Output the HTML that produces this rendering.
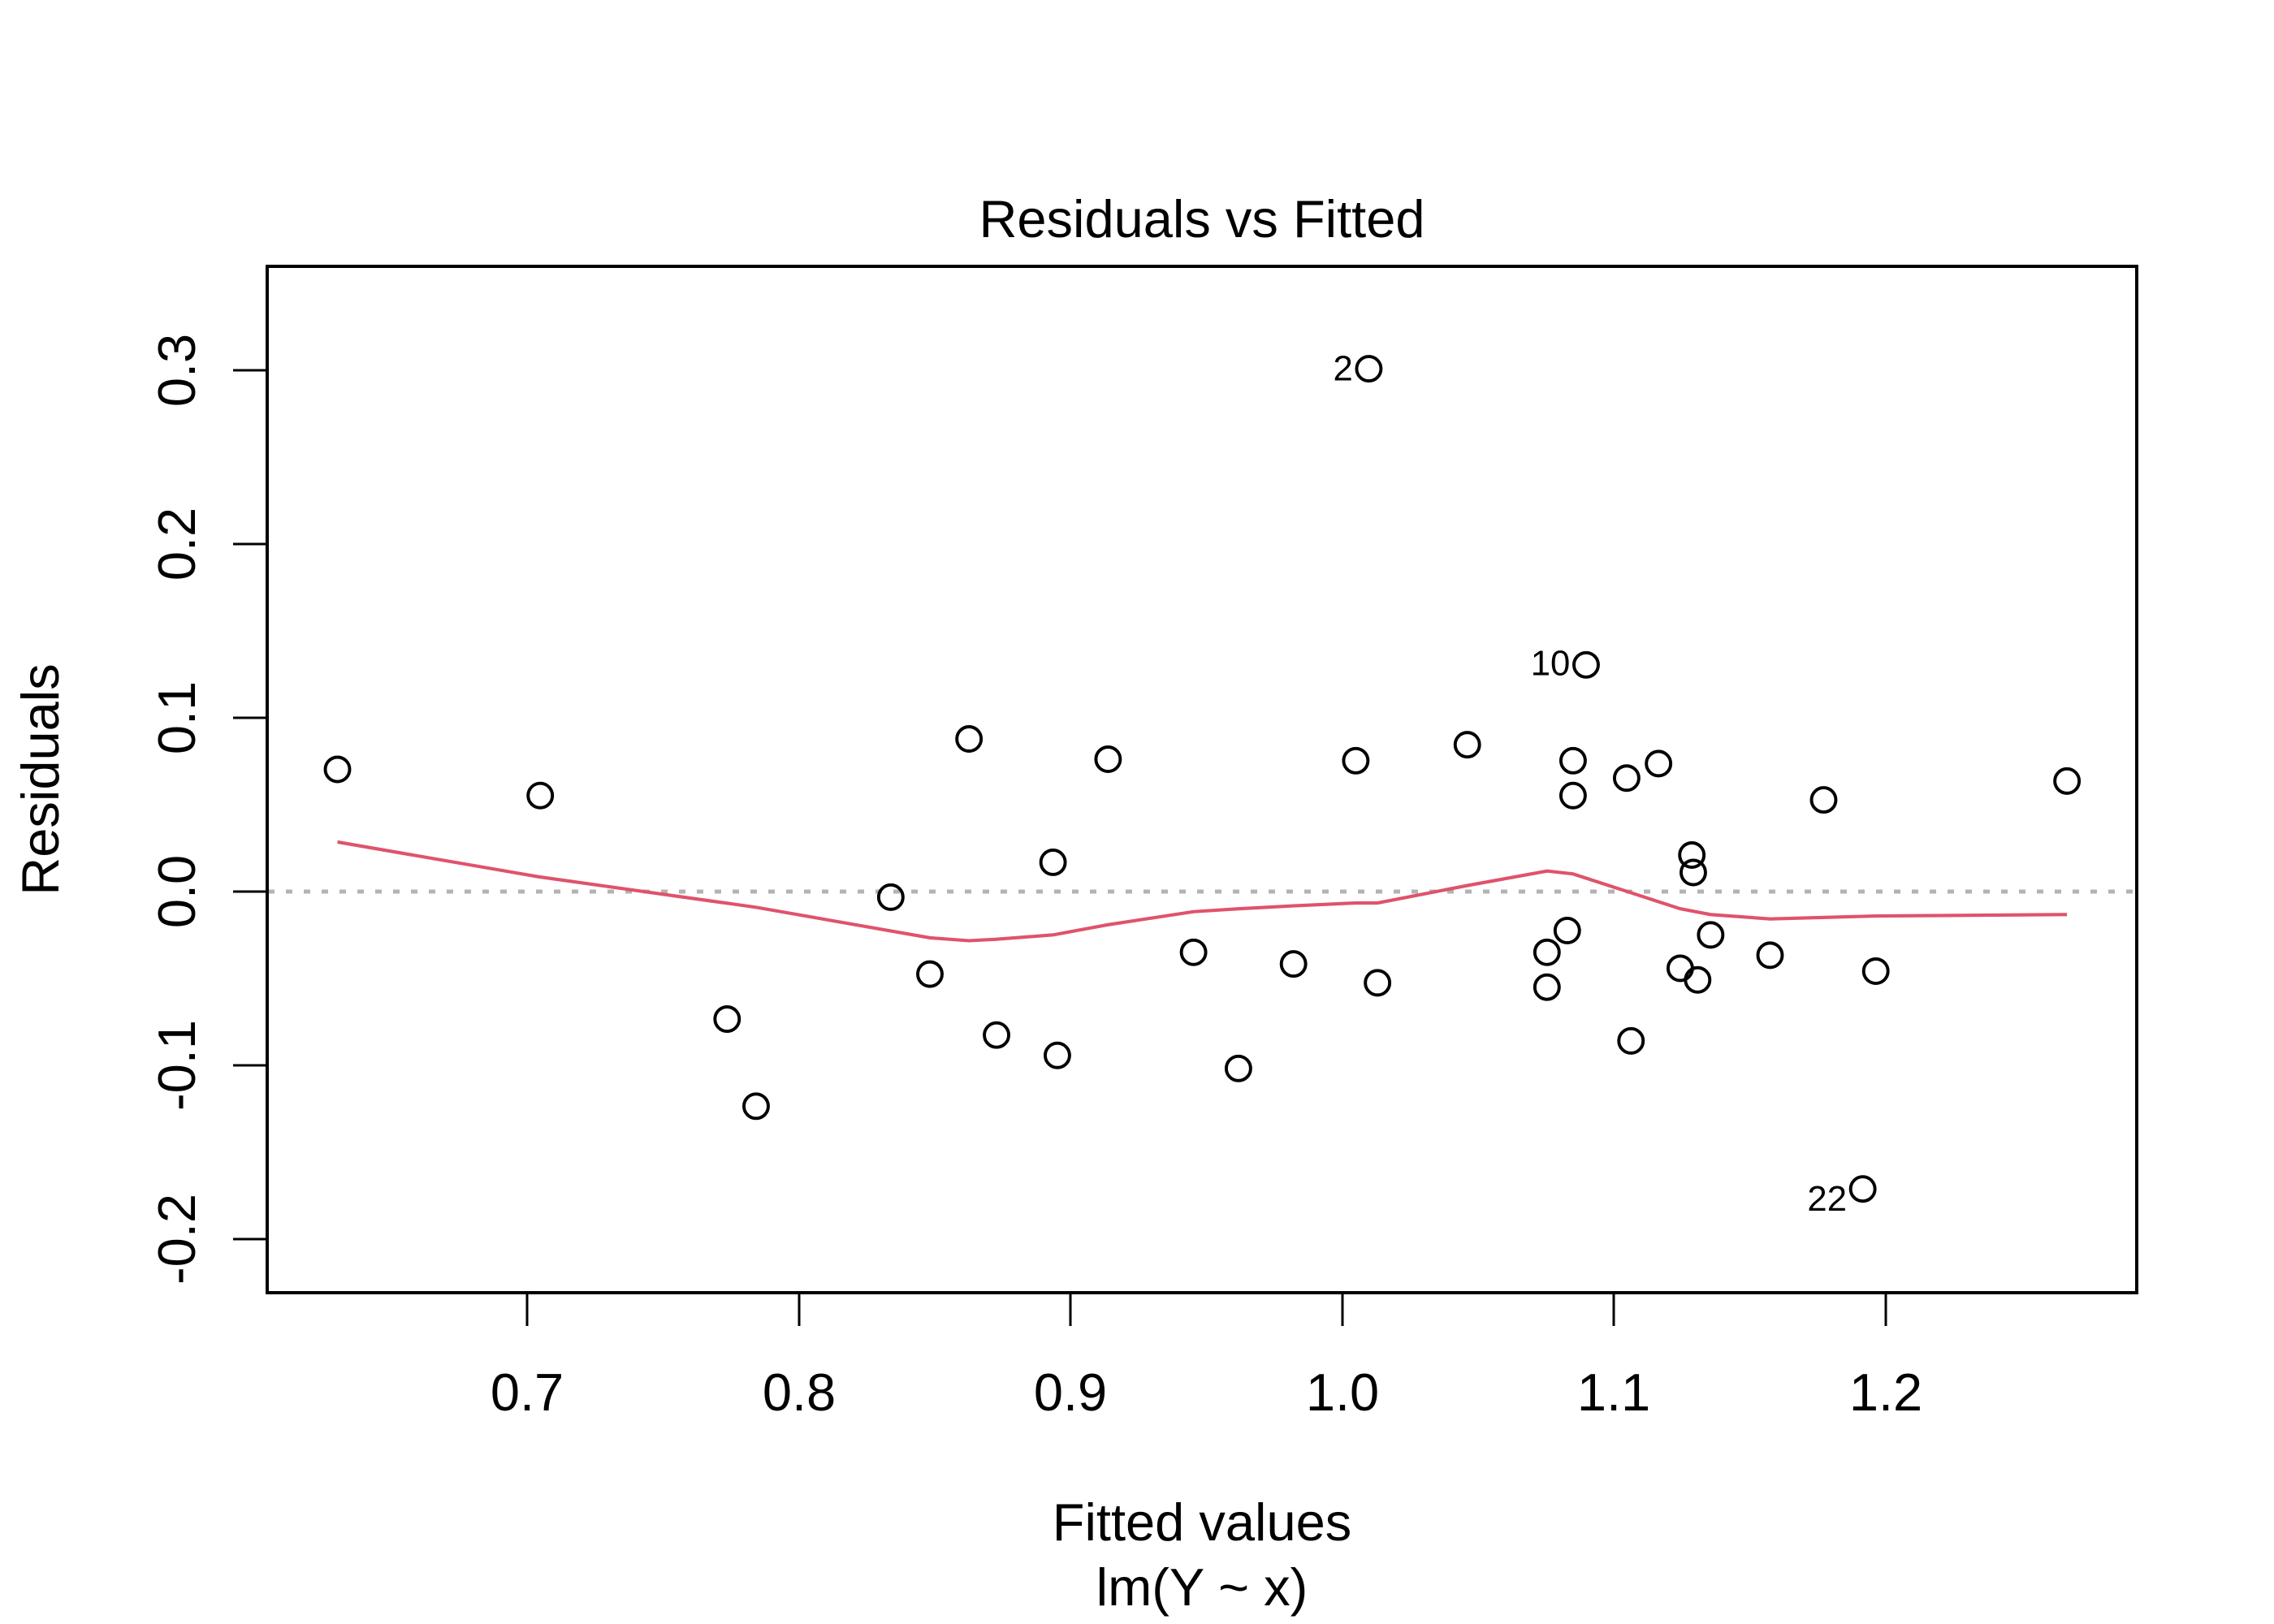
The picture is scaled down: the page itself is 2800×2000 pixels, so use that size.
<!DOCTYPE html>
<html><head><meta charset="utf-8"><style>
html,body{margin:0;padding:0;background:#fff;}
svg{display:block;}
text{font-family:"Liberation Sans",sans-serif;fill:#000;}
</style></head><body>
<svg width="2800" height="2000" viewBox="0 0 2800 2000" xmlns="http://www.w3.org/2000/svg">
<rect width="2800" height="2000" fill="#fff"/>
<text x="1480" y="292" font-size="65" text-anchor="middle">Residuals vs Fitted</text>
<line x1="330" y1="1098" x2="2632" y2="1098" stroke="#b3b3b3" stroke-width="5" stroke-dasharray="8,14"/>
<g transform="matrix(1.7836 0 0 1.7878 3.5 0)">
<polyline fill="none" stroke="#DF536B" stroke-width="2.3" points="231,580 370,604 520,625 640,646 667,648 686,647 725,644 763,637 822,628 853,626 891,624 934,622 949,622 1011,610 1066,600 1084,602 1121,614 1158,626 1179,630 1220,633 1293,631 1425,630"/>
<g fill="none" stroke="#000" stroke-width="2.2">
<circle cx="231" cy="530" r="8.4"/><circle cx="371" cy="548" r="8.4"/><circle cx="500" cy="702" r="8.4"/><circle cx="520" cy="762" r="8.4"/><circle cx="613" cy="618" r="8.4"/><circle cx="640" cy="671" r="8.4"/><circle cx="667" cy="509" r="8.4"/><circle cx="686" cy="713" r="8.4"/><circle cx="725" cy="594" r="8.4"/><circle cx="728" cy="727" r="8.4"/><circle cx="763" cy="523" r="8.4"/><circle cx="822" cy="656" r="8.4"/><circle cx="853" cy="736" r="8.4"/><circle cx="891" cy="664" r="8.4"/><circle cx="934" cy="524" r="8.4"/><circle cx="943" cy="254" r="8.4"/><circle cx="949" cy="677" r="8.4"/><circle cx="1011" cy="513" r="8.4"/><circle cx="1066" cy="656" r="8.4"/><circle cx="1066" cy="680" r="8.4"/><circle cx="1080" cy="641" r="8.4"/><circle cx="1084" cy="524" r="8.4"/><circle cx="1084" cy="548" r="8.4"/><circle cx="1093" cy="458" r="8.4"/><circle cx="1121" cy="536" r="8.4"/><circle cx="1124" cy="717" r="8.4"/><circle cx="1143" cy="526" r="8.4"/><circle cx="1158" cy="667" r="8.4"/><circle cx="1166" cy="589" r="8.4"/><circle cx="1167" cy="601" r="8.4"/><circle cx="1170" cy="675" r="8.4"/><circle cx="1179" cy="644" r="8.4"/><circle cx="1220" cy="658" r="8.4"/><circle cx="1257" cy="551" r="8.4"/><circle cx="1284" cy="819" r="8.4"/><circle cx="1293" cy="669" r="8.4"/><circle cx="1425" cy="538" r="8.4"/>
</g>
<g font-size="24.5">
<text x="932" y="262" text-anchor="end">2</text>
<text x="1082" y="465" text-anchor="end">10</text>
<text x="1273" y="834" text-anchor="end">22</text>
</g>
</g>
<rect x="329" y="328" width="2302" height="1264" fill="none" stroke="#000" stroke-width="4"/>
<g stroke="#000" stroke-width="3">
<line x1="649" y1="1592" x2="649" y2="1633"/><line x1="984" y1="1592" x2="984" y2="1633"/><line x1="1318" y1="1592" x2="1318" y2="1633"/><line x1="1653" y1="1592" x2="1653" y2="1633"/><line x1="1987" y1="1592" x2="1987" y2="1633"/><line x1="2322" y1="1592" x2="2322" y2="1633"/>
<line x1="287" y1="456" x2="329" y2="456"/><line x1="287" y1="670" x2="329" y2="670"/><line x1="287" y1="884" x2="329" y2="884"/><line x1="287" y1="1098" x2="329" y2="1098"/><line x1="287" y1="1312" x2="329" y2="1312"/><line x1="287" y1="1526" x2="329" y2="1526"/>
</g>
<g font-size="65" text-anchor="middle">
<text x="649" y="1737">0.7</text><text x="984" y="1737">0.8</text><text x="1318" y="1737">0.9</text><text x="1653" y="1737">1.0</text><text x="1987" y="1737">1.1</text><text x="2322" y="1737">1.2</text>
<text transform="translate(240,456) rotate(-90)">0.3</text>
<text transform="translate(240,670) rotate(-90)">0.2</text>
<text transform="translate(240,884) rotate(-90)">0.1</text>
<text transform="translate(240,1098) rotate(-90)">0.0</text>
<text transform="translate(240,1312) rotate(-90)">-0.1</text>
<text transform="translate(240,1526) rotate(-90)">-0.2</text>
<text x="1480" y="1897">Fitted values</text>
<text x="1480" y="1977">lm(Y ~ x)</text>
<text transform="translate(72,960) rotate(-90)">Residuals</text>
</g>
</svg>
</body></html>
